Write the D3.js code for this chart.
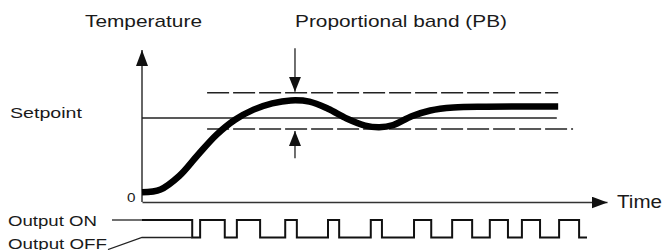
<!DOCTYPE html>
<html>
<head>
<meta charset="utf-8">
<script src="https://cdn.jsdelivr.net/npm/d3@7"></script>
<style>
  html, body { margin: 0; padding: 0; background: #fff; }
  svg { display: block; }
  text { font-family: "Liberation Sans", Arial, Helvetica, sans-serif; fill: #1a1a1a; }
</style>
</head>
<body>
<svg id="chart" width="664" height="250"></svg>
<script>
// ---- data (time in arbitrary units 0..100, temperature with setpoint = 100) ----
const curveTime = [0, 4, 8, 12, 16, 20, 24, 28, 32, 36, 40, 44, 48, 51, 54, 58, 62, 67, 74, 89.5];
const curveTemp = [11.5, 15, 31, 56, 80, 98, 110, 117.5, 121, 119.5, 111, 99.5, 91, 89, 91.5, 102, 109, 112.5, 113.5, 113.7];

const setpoint = 100;
const bandUpper = 130;
const bandLower = 87;
const setpointEnd = 89.2;
const bandStart = 14.0;
const bandUpperEnd = 89.5;
const bandLowerEnd = 92.7;

// on/off output: switching times (starts ON at t=0)
const pulseEdges = [10.8, 12.5, 17.8, 20.4, 25.4, 30.8, 33.3, 40.0, 42.4, 49.2, 51.6, 58.5, 62.2, 66.7, 71.0, 74.8, 78.7, 81.7, 85.6, 89.7, 94.0];
const pulseEnd = 95.7;

const labels = {
  yAxis: "Temperature",
  band: "Proportional band (PB)",
  setpoint: "Setpoint",
  zero: "0",
  xAxis: "Time",
  on: "Output ON",
  off: "Output OFF"
};

// ---- scales ----
const x = d3.scaleLinear().domain([0, 100]).range([142, 607]);
const y = d3.scaleLinear().domain([0, 181]).range([202, 50]);
const ySig = d3.scaleLinear().domain([0, 1]).range([237.5, 220]);

const svg = d3.select("#chart");
const ink = "#111";

// arrow markers
const defs = svg.append("defs");
defs.append("marker").attr("id", "ah").attr("viewBox", "0 0 16 12")
  .attr("refX", 16).attr("refY", 6).attr("markerWidth", 16).attr("markerHeight", 12)
  .attr("markerUnits", "userSpaceOnUse").attr("orient", "auto")
  .append("path").attr("d", "M0,0 L16,6 L0,12 Z").attr("fill", ink);
defs.append("marker").attr("id", "ahs").attr("viewBox", "0 0 15 12")
  .attr("refX", 15).attr("refY", 6).attr("markerWidth", 15).attr("markerHeight", 12)
  .attr("markerUnits", "userSpaceOnUse").attr("orient", "auto")
  .append("path").attr("d", "M0,0 L15,6 L0,12 Z").attr("fill", ink);

// ---- axes (no ticks) ----
const xAxis = d3.axisBottom(x).tickValues([]).tickSizeOuter(0);
const yAxis = d3.axisLeft(y).tickValues([]).tickSizeOuter(0);
const gx = svg.append("g").attr("transform", `translate(0,${y(0)})`).call(xAxis);
const gy = svg.append("g").attr("transform", `translate(${x(0)},0)`).call(yAxis);
gx.select(".domain").attr("stroke", "#333").attr("stroke-width", 1.5).attr("marker-end", "url(#ah)");
gy.select(".domain").attr("stroke", "#333").attr("stroke-width", 1.5)
  .attr("d", `M0,${y(0)}V${y(181)}`).attr("marker-end", "url(#ah)");

// ---- setpoint and band ----
svg.append("line").attr("x1", x(0)).attr("x2", x(setpointEnd))
  .attr("y1", y(setpoint)).attr("y2", y(setpoint))
  .attr("stroke", "#222").attr("stroke-width", 1.3);
svg.append("line").attr("x1", x(bandStart)).attr("x2", x(bandUpperEnd))
  .attr("y1", y(bandUpper)).attr("y2", y(bandUpper))
  .attr("stroke", "#222").attr("stroke-width", 1.5).attr("stroke-dasharray", "22,4");
svg.append("line").attr("x1", x(bandStart)).attr("x2", x(bandLowerEnd))
  .attr("y1", y(bandLower)).attr("y2", y(bandLower))
  .attr("stroke", "#222").attr("stroke-width", 1.5).attr("stroke-dasharray", "22,4");

// PB arrows
const arrowT = 32.9;
svg.append("line").attr("x1", x(arrowT)).attr("x2", x(arrowT))
  .attr("y1", y(183)).attr("y2", y(bandUpper) - 1)
  .attr("stroke", "#333").attr("stroke-width", 1.4).attr("marker-end", "url(#ahs)");
svg.append("line").attr("x1", x(arrowT)).attr("x2", x(arrowT))
  .attr("y1", y(52)).attr("y2", y(bandLower) + 2)
  .attr("stroke", "#333").attr("stroke-width", 1.4).attr("marker-end", "url(#ahs)");

// ---- temperature curve ----
const curveData = curveTime.map((t, i) => [t, curveTemp[i]]);
svg.append("path").datum(curveData)
  .attr("d", d3.line().x(d => x(d[0])).y(d => y(d[1])).curve(d3.curveCatmullRom.alpha(0.5)))
  .attr("fill", "none").attr("stroke", "#000").attr("stroke-width", 6.5)
  .attr("stroke-linecap", "butt");

// ---- output signal ----
const sig = [[0, 1]];
let level = 1;
pulseEdges.forEach(t => { sig.push([t, level]); level = 1 - level; sig.push([t, level]); });
sig.push([pulseEnd, level]);
svg.append("path").datum(sig)
  .attr("d", d3.line().x(d => x(d[0])).y(d => ySig(d[1])))
  .attr("fill", "none").attr("stroke", "#111").attr("stroke-width", 2);

// leaders
svg.append("path").attr("d", `M112,${ySig(1)}H${x(0)}`)
  .attr("fill", "none").attr("stroke", "#222").attr("stroke-width", 1.3);
svg.append("path").attr("d", `M108,249.5L${x(0)},${ySig(0)}H${x(pulseEdges[0])}`)
  .attr("fill", "none").attr("stroke", "#222").attr("stroke-width", 1.3);

// ---- texts ----
function label(txt, px, py, size, len) {
  svg.append("text").attr("x", px).attr("y", py).attr("font-size", size)
    .attr("textLength", len).attr("lengthAdjust", "spacingAndGlyphs").text(txt);
}
label(labels.yAxis, 85, 27, 17, 117);
label(labels.band, 295, 27, 17, 212);
label(labels.setpoint, 10, 118, 15.5, 72);
label(labels.zero, 127, 202, 13, 8.5);
label(labels.xAxis, 617, 208, 17.5, 45);
label(labels.on, 8, 226, 14.5, 89);
label(labels.off, 8, 248.5, 14.5, 99);
</script>
</body>
</html>
